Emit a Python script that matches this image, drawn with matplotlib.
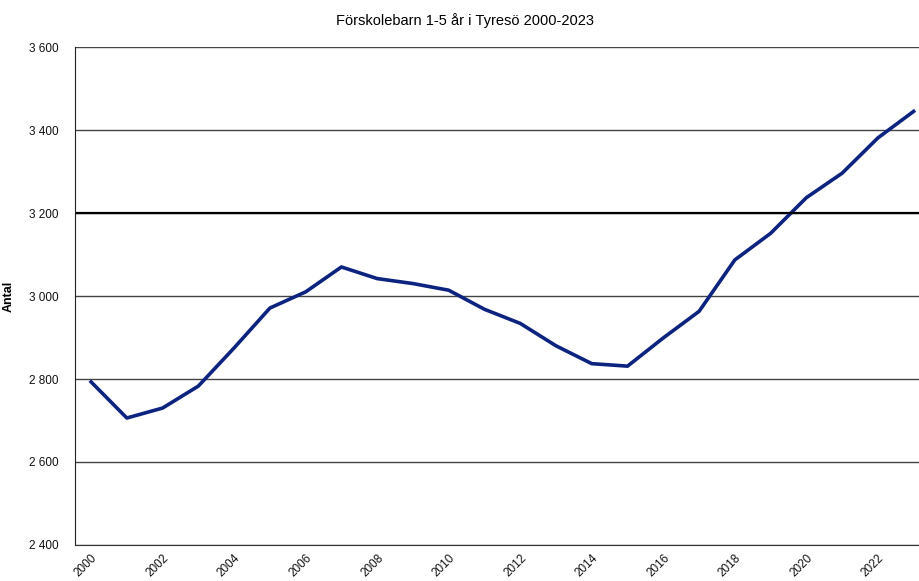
import matplotlib
matplotlib.use("Agg")
import matplotlib.pyplot as plt
from matplotlib.ticker import FuncFormatter

plt.rcParams['font.family'] = ['Liberation Sans', 'DejaVu Sans']

# Antal förskolebarn 1-5 år per år
years = list(range(2000, 2024))
children = [2793, 2706, 2730, 2783, 2875, 2971, 3010, 3070, 3042, 3030,
            3014, 2968, 2934, 2880, 2837, 2831, 2899, 2963, 3087, 3151,
            3237, 3296, 3381, 3445]

y_ticks = [2400, 2600, 2800, 3000, 3200, 3400, 3600]
x_ticks = list(range(2000, 2023, 2))

fig = plt.figure(figsize=(9.19, 5.81), dpi=100)
ax = fig.add_axes([0.0816, 0.062, 0.9184, 0.857])

ax.plot(years, children, color='#0d2380', linewidth=2.6, solid_joinstyle='round')

ax.set_ylim(2400, 3600)
ax.set_xlim(1999.55, 2023.15)
ax.set_yticks(y_ticks)
ax.set_xticks(x_ticks)
ax.yaxis.set_major_formatter(FuncFormatter(lambda v, p: f"{int(v):,}".replace(",", " ")))

ax.grid(axis='y', color='#444444', linewidth=1.0)
ax.axhline(3200, color='black', linewidth=1.6)
ax.set_axisbelow(True)

for side in ['top', 'right']:
    ax.spines[side].set_visible(False)
ax.spines['left'].set_color('#222222')
ax.spines['bottom'].set_color('#333333')
ax.tick_params(axis='both', length=0, labelsize=8.5, colors='#111111')
ax.tick_params(axis='y', pad=12)
plt.setp(ax.get_xticklabels(), rotation=45, ha='right', rotation_mode='anchor')
ax.tick_params(axis='x', pad=5)

ax.set_ylabel('Antal', fontsize=9, fontweight='bold', labelpad=10)
fig.text(0.506, 0.965, 'Förskolebarn 1-5 år i Tyresö 2000-2023', ha='center', va='center', fontsize=10.5)

fig.savefig('out.png', dpi=100)
